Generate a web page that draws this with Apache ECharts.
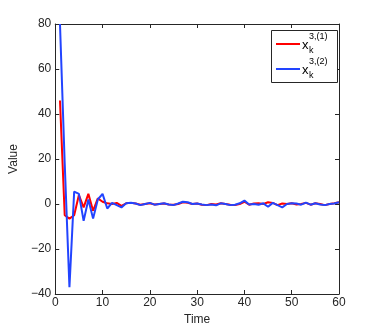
<!DOCTYPE html>
<html>
<head>
<meta charset="utf-8">
<script src="https://cdn.jsdelivr.net/npm/echarts@6/dist/echarts.min.js"></script>
<style>
  html, body { margin: 0; padding: 0; background: #fff; }
  #chart { width: 374px; height: 331px; }
</style>
</head>
<body>
<div id="chart"></div>
<script>
// values, one per time step (1..60)
var red = [46, -5, -6.5, -5, 4, -1.5, 4.5, -3, 2.5, 1,
    0.3, 0, 0.5, -0.8, 0.3, 0.5, 0.2, -0.3, 0, 0.3,
    -0.2, 0, 0.2, -0.2, -0.3, 0, 0.8, 0.5, 0, 0.2,
    -0.3, -0.5, 0, -0.2, 0.3, 0, -0.3, -0.5, 0, 1,
    -0.3, 0.2, 0.3, 0, 0.8, 0.5, -0.5, 0.2, 0, 0.3,
    -0.2, 0, 0.5, -0.3, 0.3, 0, -0.5, 0, 0.3, 0.8];
var blue = [80, 18, -37, 5.5, 4.5, -7.5, 2, -6.5, 2, 4.5,
    -2, 0.5, -0.5, -1.5, 0.3, 0.6, 0.2, -0.5, 0, 0.5,
    -0.3, 0, 0.3, -0.2, -0.5, 0.2, 1, 0.8, 0, 0.2,
    -0.2, -0.5, -0.2, -0.6, 0.3, 0, -0.5, -0.3, 0.3, 1.5,
    -0.2, 0, -0.3, 0.3, -1.2, 0.5, -0.5, -1.5, 0, 0.3,
    0.2, -0.3, 0.6, -0.3, 0.3, -0.2, -0.5, 0, 0.2, 0.8];
var xTicks = [0, 10, 20, 30, 40, 50, 60];
var yTicks = [-40, -20, 0, 20, 40, 60, 80];

function pairs(vals) {
    return vals.map(function (v, i) { return [i + 1, v]; });
}

var font = 'Liberation Sans, Arial, sans-serif';
var axisCol = '#262626';
function minus(v) { return String(v).replace('-', '\u2212'); }

var chart = echarts.init(document.getElementById('chart'));

var baseAxis = {
    type: 'value',
    axisLine: { show: true, onZero: false, lineStyle: { color: axisCol, width: 1 } },
    axisTick: { show: true, inside: true, length: 4, lineStyle: { color: axisCol } },
    splitLine: { show: false }
};

chart.setOption({
    backgroundColor: '#ffffff',
    animation: false,
    grid: { left: 49, right: 35, top: 24, bottom: 37 },
    xAxis: [
        Object.assign({}, baseAxis, {
            min: xTicks[0], max: xTicks[xTicks.length - 1], interval: 10,
            position: 'bottom',
            name: 'Time', nameLocation: 'middle', nameGap: 16,
            nameTextStyle: { color: axisCol, fontFamily: font, fontSize: 12 },
            axisLabel: { color: axisCol, fontFamily: font, fontSize: 12, margin: 3, formatter: minus }
        }),
        Object.assign({}, baseAxis, {
            min: xTicks[0], max: xTicks[xTicks.length - 1], interval: 10,
            position: 'top', axisLabel: { show: false }
        })
    ],
    yAxis: [
        Object.assign({}, baseAxis, {
            min: yTicks[0], max: yTicks[yTicks.length - 1], interval: 20,
            position: 'left',
            name: 'Value', nameLocation: 'middle', nameGap: 29,
            nameTextStyle: { color: axisCol, fontFamily: font, fontSize: 12 },
            axisLabel: { color: axisCol, fontFamily: font, fontSize: 12, margin: 4, formatter: minus }
        }),
        Object.assign({}, baseAxis, {
            min: yTicks[0], max: yTicks[yTicks.length - 1], interval: 20,
            position: 'right', axisLabel: { show: false }
        })
    ],
    series: [
        {
            name: 'x1', type: 'line', data: pairs(red),
            symbol: 'none', lineStyle: { color: '#ff0000', width: 2 }, z: 2,
            clip: true
        },
        {
            name: 'x2', type: 'line', data: pairs(blue),
            symbol: 'none', lineStyle: { color: '#2244ff', width: 2 }, z: 3,
            clip: true
        }
    ],
    graphic: [
        { type: 'rect', shape: { x: 271.5, y: 30.5, width: 66, height: 52 },
          style: { fill: '#fff', stroke: axisCol, lineWidth: 1 }, z: 10 },
        { type: 'line', shape: { x1: 276, y1: 44, x2: 300, y2: 44 },
          style: { stroke: '#ff0000', lineWidth: 2 }, z: 11 },
        { type: 'line', shape: { x1: 276, y1: 69, x2: 300, y2: 69 },
          style: { stroke: '#2244ff', lineWidth: 2 }, z: 11 },
        { type: 'text', x: 302, y: 39, z: 11, style: { text: 'x', font: '13px ' + font, fill: '#000' } },
        { type: 'text', x: 309, y: 32, z: 11, style: { text: '3,(1)', font: '9px ' + font, fill: '#000' } },
        { type: 'text', x: 309, y: 46, z: 11, style: { text: 'k', font: '9px ' + font, fill: '#000' } },
        { type: 'text', x: 302, y: 64, z: 11, style: { text: 'x', font: '13px ' + font, fill: '#000' } },
        { type: 'text', x: 309, y: 57, z: 11, style: { text: '3,(2)', font: '9px ' + font, fill: '#000' } },
        { type: 'text', x: 309, y: 71, z: 11, style: { text: 'k', font: '9px ' + font, fill: '#000' } }
    ]
});
</script>
</body>
</html>
